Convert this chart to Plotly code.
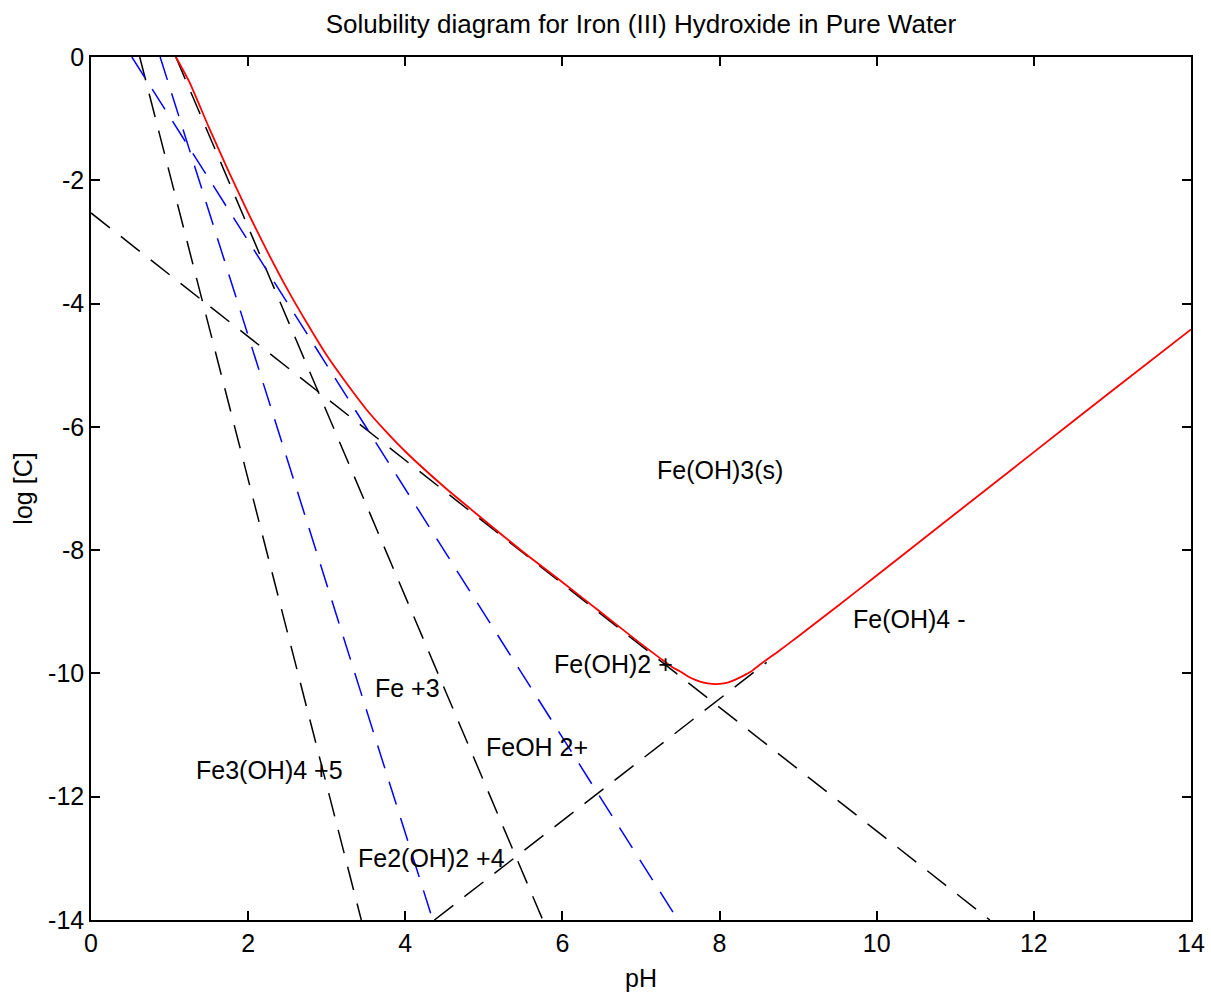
import plotly.graph_objects as go

# ---- data ----
# Total dissolved iron (red curve)
ph_total = [1.08, 1.25, 1.5, 1.75, 2.0, 2.25, 2.5, 2.75, 3.0, 3.25, 3.5, 3.75,
            4.0, 4.5, 5.0, 5.5, 6.0, 6.5, 7.0, 7.25, 7.4, 7.5, 7.6, 7.7, 7.8,
            7.9, 8.0, 8.1, 8.2, 8.3, 8.4, 8.5, 8.75, 9.0, 9.5, 10.0, 11.0,
            12.0, 13.0, 14.0]
logc_total = [0.0, -0.40, -1.14, -1.85, -2.53, -3.17, -3.77, -4.32, -4.84, -5.29,
              -5.71, -6.07, -6.40, -6.98, -7.51, -8.03, -8.52, -9.02, -9.52,
              -9.76, -9.90, -9.97, -10.05, -10.11, -10.15, -10.17, -10.17,
              -10.15, -10.10, -10.04, -9.97, -9.87, -9.64, -9.40, -8.91, -8.41,
              -7.41, -6.41, -5.41, -4.42]

# Individual species (dashed lines)
ph_fe3 = [1.08, 5.75]
logc_fe3 = [0.0, -14.0]

ph_feoh2 = [0.52, 7.47]          # FeOH 2+ (blue)
logc_feoh2 = [0.0, -14.0]

ph_feoh2p = [0.0, 11.44]         # Fe(OH)2 + (black)
logc_feoh2p = [-2.53, -14.0]

ph_feoh4 = [4.37, 8.6]           # Fe(OH)4 - (black)
logc_feoh4 = [-14.0, -9.82]

ph_fe2oh2 = [0.88, 4.35]         # Fe2(OH)2 +4 (blue)
logc_fe2oh2 = [0.0, -14.0]

ph_fe3oh4 = [0.62, 3.44]         # Fe3(OH)4 +5 (black)
logc_fe3oh4 = [0.0, -14.0]

# Labels
label_text = ["Fe(OH)3(s)", "Fe(OH)4 -", "Fe(OH)2 +", "Fe +3", "FeOH 2+",
              "Fe3(OH)4 +5", "Fe2(OH)2 +4"]
label_ph = [8.0, 10.42, 6.65, 4.03, 5.68, 2.27, 4.33]
label_logc = [-6.70, -9.12, -9.85, -10.24, -11.19, -11.57, -12.99]

# Ticks
x_ticks = [0, 2, 4, 6, 8, 10, 12, 14]
x_ticktext = ["0", "2", "4", "6", "8", "10", "12", "14"]
y_ticks = [0, -2, -4, -6, -8, -10, -12, -14]
y_ticktext = ["0", "-2", "-4", "-6", "-8", "-10", "-12", "-14"]

FONT = "Liberation Sans, Arial, Helvetica, sans-serif"
DASH = "24px,14px"

fig = go.Figure()

def dashed(x, y, color):
    fig.add_trace(go.Scatter(x=x, y=y, mode="lines",
                             line=dict(color=color, width=1.5, dash=DASH),
                             showlegend=False, hoverinfo="skip"))

dashed(ph_fe3oh4, logc_fe3oh4, "black")
dashed(ph_fe3, logc_fe3, "black")
dashed(ph_feoh2p, logc_feoh2p, "black")
dashed(ph_feoh4, logc_feoh4, "black")
dashed(ph_fe2oh2, logc_fe2oh2, "#0000FF")
dashed(ph_feoh2, logc_feoh2, "#0000FF")

fig.add_trace(go.Scatter(x=ph_total, y=logc_total, mode="lines",
                         line=dict(color="#FF0000", width=1.8, shape="spline",
                                   smoothing=0.6),
                         showlegend=False, hoverinfo="skip"))

for t, xv, yv in zip(label_text, label_ph, label_logc):
    fig.add_annotation(x=xv, y=yv, text=t, showarrow=False,
                       xanchor="center", yanchor="middle",
                       font=dict(family=FONT, size=25, color="black"))

axis_common = dict(showline=True, linecolor="black", linewidth=1.5,
                   mirror="ticks", ticks="inside", ticklen=9, tickwidth=1.5,
                   tickcolor="black", showgrid=False, zeroline=False,
                   automargin=False,
                   tickfont=dict(family=FONT, size=25, color="black"),
                   title_font=dict(family=FONT, size=25, color="black"))

fig.update_xaxes(range=[0, 14], tickmode="array", tickvals=x_ticks,
                 ticktext=x_ticktext, title_text="pH", title_standoff=14,
                 **axis_common)
fig.update_yaxes(range=[-14, 0], tickmode="array", tickvals=y_ticks,
                 ticktext=y_ticktext, title_text="log [C]", title_standoff=8,
                 **axis_common)

fig.update_layout(
    width=1211, height=996,
    margin=dict(l=91, r=20, t=57, b=76),
    paper_bgcolor="white", plot_bgcolor="white",
    title=dict(text="Solubility diagram for Iron (III) Hydroxide in Pure Water",
               x=0.5, xref="paper", y=1 - 24 / 996, yref="container",
               xanchor="center", yanchor="middle",
               font=dict(family=FONT, size=26, color="black")),
)

fig.write_html("out.html")
